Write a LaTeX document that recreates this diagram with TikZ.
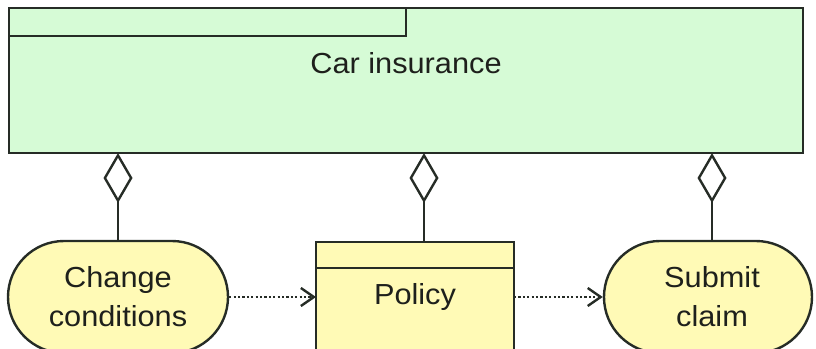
\documentclass[tikz,border=0pt]{standalone}
\usepackage{fontspec}
\setmainfont[FakeStretch=1.06]{Liberation Sans}
\usetikzlibrary{arrows.meta}
\definecolor{gfill}{RGB}{214,251,214}
\definecolor{yfill}{RGB}{255,250,182}
\definecolor{edge}{RGB}{38,44,38}
\definecolor{txt}{RGB}{30,32,28}
\tikzset{
  lbl/.style={font=\fontsize{29}{39}\selectfont, text=txt, align=center},
  pill/.style={draw=edge, line width=2.4pt, fill=yfill, rounded corners=56pt, minimum width=220pt, minimum height=112pt, inner sep=0pt},
  agg/.style={draw=edge, line width=2.4pt, -{Diamond[open, length=50pt, width=29pt, line width=2.4pt]}},
  dep/.style={draw=edge, line width=2.4pt, dash pattern=on 2.2pt off 2.2pt, -{Straight Barb[length=13pt, width=18pt, line width=2.4pt]}}
}
\begin{document}
\begin{tikzpicture}[x=1pt,y=-1pt]
\useasboundingbox (0,0) rectangle (816,348);
\clip (0,0) rectangle (816,348);
% Car insurance
\draw[edge, line width=2.4pt, fill=gfill] (9,8) rectangle (803,153);
\draw[edge, line width=2.4pt] (9,36) -- (406,36) -- (406,8);
\node[lbl] (car) at (406,63) {Car insurance};
\coordinate (carS1) at (118,153);
\coordinate (carS2) at (424,153);
\coordinate (carS3) at (712,153);
% Change conditions
\node[pill, minimum width=220pt] (cc) at (118,297) {};
\node[lbl] (cct) at (118,297) {Change\\conditions};
% Policy
\draw[edge, line width=2.4pt, fill=yfill] (316,242) rectangle (514,370);
\draw[edge, line width=2.4pt] (316,268) -- (514,268);
\coordinate (polL) at (316,297);
\coordinate (polR) at (514,297);
\coordinate (polT) at (424,242);
\node[lbl] (pol) at (415,297) {Policy};
% Submit claim
\node[pill, minimum width=208pt] (sc) at (708,297) {};
\node[lbl] (sct) at (712,297) {Submit\\claim};
% aggregations
\draw[agg] (cc.north) -- (carS1);
\draw[agg] (polT) -- (carS2);
\draw[agg] (sc.north -| carS3) -- (carS3);
% dependencies
\draw[dep] (cc.east) -- (polL);
\draw[dep] (polR) -- (sc.west);
\end{tikzpicture}
\end{document}
